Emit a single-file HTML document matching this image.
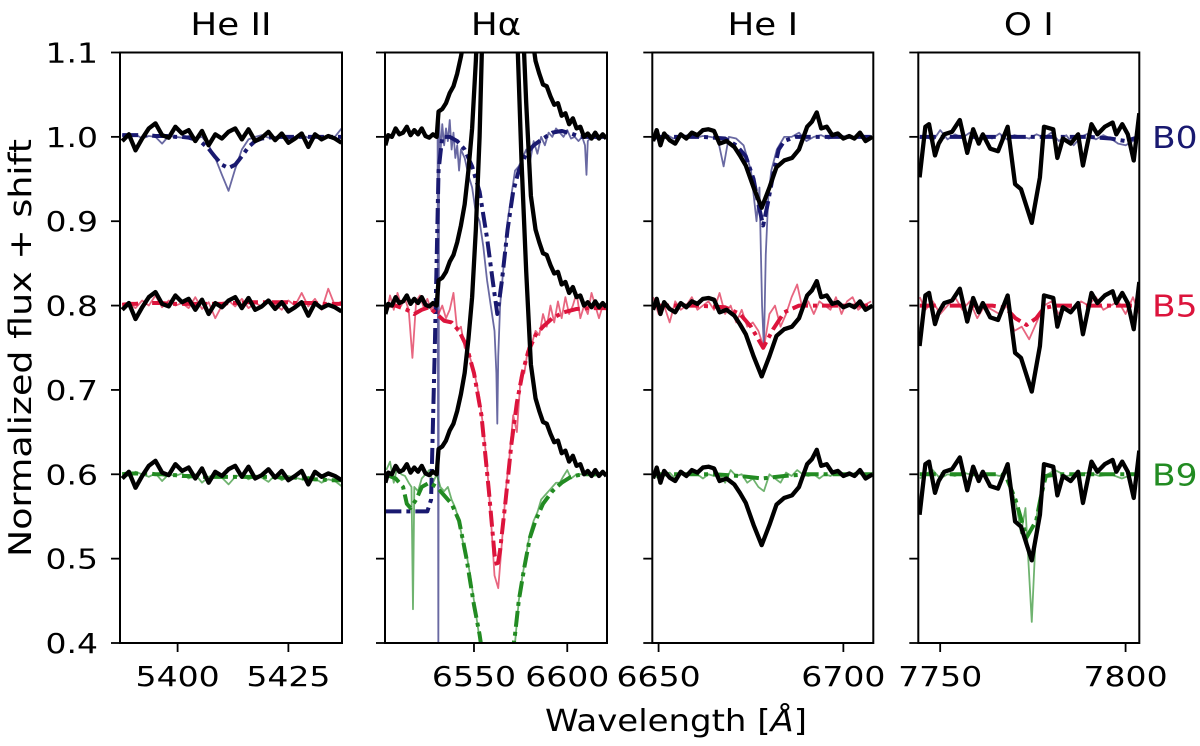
<!DOCTYPE html>
<html><head><meta charset="utf-8"><style>
html,body{margin:0;padding:0;background:#fff}
svg{display:block}
text{font-family:"DejaVu Sans","Liberation Sans",sans-serif;fill:#000}
</style></head><body>
<svg id="fig" width="1200" height="746" viewBox="0 0 1200 746"></svg>
<script>
// ---------- He II panel data ----------
const wHeII=[5387.5,5389,5390.5,5392,5393.5,5395,5396.5,5398,5399.5,5401,5402.5,5404,5405.5,5407,5408.5,5410,5411.5,5413,5414.5,5416,5417.5,5419,5420.5,5422,5423.5,5425,5426.5,5428,5429.5,5431,5432.5,5434,5435.5,5437];
const obsHeII=[0.995,1.003,0.984,0.998,1.010,1.016,1.002,0.999,1.012,1.004,1.008,0.995,1.007,0.990,1.003,0.998,1.006,1.010,0.997,1.009,0.995,0.999,1.006,0.996,1.004,0.993,0.998,1.004,0.988,1.003,0.997,1.001,0.998,0.993];
const b0HeIIthin=[1.002,1.000,1.003,0.998,1.001,1.000,0.992,1.001,1.000,0.999,1.001,0.998,1.000,0.990,0.975,0.955,0.936,0.962,0.985,0.997,1.000,1.002,0.999,1.000,1.001,0.998,1.000,1.002,0.999,1.000,0.999,1.001,1.000,1.010];
const b0HeIIfit=[1.002,1.002,1.002,1.002,1.002,1.001,1.001,1.001,1.000,1.000,0.999,0.997,0.993,0.986,0.976,0.967,0.963,0.967,0.977,0.988,0.995,0.998,0.999,1.000,1.000,1.000,1.000,1.000,1.000,1.000,1.000,1.000,1.000,1.000];
const b5HeIIthin=[0.800,0.803,0.797,0.806,0.800,0.812,0.798,0.806,0.800,0.803,0.797,0.810,0.796,0.804,0.785,0.800,0.806,0.799,0.808,0.797,0.803,0.799,0.806,0.801,0.795,0.806,0.800,0.815,0.799,0.808,0.795,0.820,0.800,0.805];
const b5HeIIfit=[0.801,0.802,0.802,0.803,0.803,0.803,0.803,0.802,0.802,0.802,0.802,0.802,0.802,0.802,0.802,0.802,0.803,0.803,0.803,0.804,0.804,0.804,0.804,0.804,0.804,0.804,0.803,0.803,0.803,0.803,0.802,0.802,0.802,0.802];
const b9HeIIthin=[0.600,0.598,0.603,0.600,0.597,0.601,0.592,0.600,0.598,0.601,0.595,0.600,0.590,0.597,0.600,0.596,0.588,0.597,0.600,0.594,0.598,0.596,0.591,0.599,0.593,0.598,0.596,0.594,0.597,0.595,0.590,0.594,0.592,0.586];
const b9HeIIfit=[0.600,0.601,0.601,0.601,0.601,0.600,0.600,0.599,0.599,0.598,0.598,0.597,0.597,0.597,0.597,0.597,0.597,0.597,0.597,0.597,0.597,0.597,0.597,0.597,0.596,0.596,0.596,0.595,0.595,0.594,0.594,0.593,0.593,0.593];
// ---------- H-alpha panel data ----------
const wHaObs=[6502.5,6504,6506,6508,6510,6512,6514,6516,6518,6520,6522,6524,6526,6528,6530,6531,6533,6535,6537,6539,6541,6543,6545,6547,6549,6551,6553,6556,6560,6563,6567,6571,6573.5,6575.5,6578,6580.5,6583,6585,6587,6589,6591,6593,6595,6597,6599,6601,6603,6605,6607,6609,6611,6613,6615,6617,6619,6621];
const obsHa=[0.990,1.002,1.000,1.010,1.003,1.005,1.012,1.002,1.008,1.003,1.010,1.001,0.999,1.003,1.000,1.030,1.033,1.040,1.052,1.060,1.075,1.095,1.120,1.160,1.210,1.290,1.40,1.65,1.95,2.05,1.95,1.65,1.50,1.37,1.24,1.13,1.09,1.075,1.062,1.060,1.048,1.038,1.040,1.025,1.028,1.015,1.022,1.010,1.012,1.000,1.004,0.998,1.005,0.998,1.003,0.998];
const wHaB0thin=[6530.5,6530.9,6531.3,6532,6533,6534,6535,6536,6537,6538,6539,6540,6541,6542,6543,6545,6547,6549,6551,6553,6555,6557,6559,6561,6562,6562.5,6563,6564,6566,6568,6570,6572,6574,6576,6578,6580,6582,6584,6586,6588,6590,6592,6594,6596,6598,6600,6602,6604,6606,6608,6609.5,6610.3,6611,6613,6616,6619,6621];
const b0HaThin=[1.0,0.38,1.02,0.98,1.015,0.99,1.01,0.995,1.02,0.985,1.005,0.975,0.99,0.96,0.985,0.975,0.955,0.94,0.91,0.90,0.87,0.83,0.80,0.77,0.72,0.66,0.74,0.80,0.85,0.90,0.93,0.96,0.965,0.975,0.985,0.97,0.995,0.98,1.0,0.99,1.005,1.0,1.01,1.005,1.0,1.008,0.998,1.0,0.995,1.0,0.99,0.955,0.995,1.0,0.998,1.0,1.0];
const wHaB0fit=[6502.5,6510,6520,6525,6527,6529,6531,6533,6537,6541,6545,6549,6553,6557,6560,6562.5,6565,6568,6571,6574,6578,6582,6587,6592,6597,6602,6607,6612,6617,6621];
const b0HaFit=[0.556,0.556,0.556,0.556,0.57,0.75,0.96,1.0,1.0,0.995,0.985,0.965,0.935,0.88,0.83,0.79,0.83,0.89,0.935,0.96,0.98,0.99,0.998,1.005,1.007,1.004,1.0,1.0,1.0,1.0];
const wHaB5thin=[6503,6505,6507,6509,6511,6513,6515,6517,6519,6521,6523,6525,6527,6529,6531,6533,6535,6537,6539,6541,6543,6545,6547,6549,6551,6553,6555,6557,6559,6561,6563,6565,6567,6569,6571,6573,6575,6577,6579,6581,6583,6585,6587,6589,6591,6593,6595,6597,6599,6601,6603,6605,6607,6609,6611,6613,6615,6617,6619,6621];
const b5HaThin=[0.790,0.812,0.795,0.815,0.800,0.808,0.795,0.738,0.805,0.812,0.798,0.808,0.795,0.803,0.790,0.800,0.785,0.795,0.815,0.770,0.775,0.750,0.745,0.730,0.712,0.69,0.655,0.61,0.55,0.48,0.465,0.52,0.58,0.62,0.67,0.65,0.715,0.72,0.75,0.755,0.77,0.765,0.790,0.775,0.80,0.78,0.805,0.785,0.81,0.79,0.80,0.815,0.785,0.80,0.79,0.815,0.80,0.785,0.80,0.795];
const wHaB5fit=[6502.5,6508,6514,6518,6522,6526,6530,6534,6538,6542,6546,6550,6554,6558,6561,6562.5,6564,6567,6570,6573,6576,6579,6583,6587,6592,6598,6605,6612,6621];
const b5HaFit=[0.800,0.800,0.795,0.790,0.795,0.798,0.790,0.782,0.780,0.770,0.752,0.72,0.67,0.58,0.505,0.49,0.51,0.57,0.635,0.685,0.72,0.745,0.765,0.775,0.785,0.792,0.796,0.797,0.797];
const wHaB9thin=[6503,6505,6507,6509,6511,6513,6515,6516.5,6517.3,6518,6520,6522,6524,6526,6528,6530,6532,6534,6536,6538,6540,6542,6544,6546,6548,6550,6552,6554,6556,6570,6572,6574,6576,6578,6580,6582,6584,6586,6588,6590,6592,6594,6596,6598,6600,6602,6605,6608,6611,6614,6617,6621];
const b9HaThin=[0.605,0.615,0.59,0.61,0.60,0.598,0.59,0.585,0.44,0.585,0.58,0.595,0.60,0.605,0.59,0.60,0.585,0.58,0.585,0.57,0.56,0.545,0.52,0.505,0.48,0.45,0.42,0.39,0.36,0.36,0.40,0.45,0.48,0.505,0.53,0.545,0.555,0.57,0.575,0.58,0.585,0.59,0.59,0.598,0.605,0.595,0.60,0.60,0.602,0.598,0.60,0.60];
const wHaB9fit=[6502.5,6508,6512,6514,6516,6519,6522,6526,6530,6534,6538,6542,6546,6550,6553,6555,6570,6572,6574,6577,6580,6583,6587,6592,6597,6602,6608,6614,6621];
const b9HaFit=[0.600,0.595,0.585,0.565,0.560,0.570,0.585,0.590,0.585,0.575,0.565,0.545,0.50,0.445,0.41,0.38,0.38,0.41,0.45,0.49,0.525,0.545,0.565,0.58,0.59,0.597,0.600,0.600,0.600];
// ---------- He I panel data ----------
const wHeIObs=[6648.5,6649.5,6650.5,6651.5,6653,6654.5,6656,6657.5,6659,6660.5,6662,6663.5,6665,6666.5,6668.4,6670.5,6672,6673.6,6675.7,6677.9,6680,6681.9,6684,6686.1,6688,6690.2,6691.5,6692.8,6694,6695.5,6697,6698.5,6700,6701.6,6703,6704.5,6706,6707.9];
const obsHeI=[0.995,1.008,0.99,1.004,0.996,0.992,1.003,0.998,1.005,1.002,1.008,1.009,1.007,0.992,0.995,0.988,0.978,0.966,0.94,0.916,0.94,0.964,0.972,0.975,0.985,1.012,1.018,1.029,1.010,1.012,1.002,1.004,0.998,1.001,0.998,1.005,0.995,1.0];
const wHeIB0thin=[6648.5,6650,6652,6654,6656,6658,6660,6662,6664,6666,6667.6,6669,6671,6673,6675,6676.5,6677.3,6678,6678.5,6679,6679.7,6680.5,6682,6684,6686,6688,6690,6692,6694,6696,6698,6700,6702,6704,6706,6708];
const b0HeIThin=[0.995,1.0,1.003,0.998,1.0,1.002,0.999,1.001,1.0,0.998,0.965,1.0,0.998,0.99,0.96,0.90,0.94,0.80,0.75,0.86,0.93,0.96,0.985,1.0,1.0,1.005,0.995,1.0,1.002,0.998,1.0,1.001,0.999,1.0,0.998,1.0];
const wHeIB0fit=[6648.5,6655,6662,6668,6671,6673.6,6675.7,6677,6678.3,6679.5,6681,6682.5,6684,6687,6692,6700,6708];
const b0HeIFit=[1.0,1.0,1.0,0.998,0.99,0.977,0.95,0.92,0.895,0.92,0.955,0.985,0.995,1.0,1.0,1.0,1.0];
const wHeIthin=[6648.5,6650,6651.5,6653,6654.5,6656,6657.5,6659,6660.5,6662,6663.5,6665,6666.5,6668,6669.5,6671,6672.5,6674,6675.5,6677,6678.5,6680,6681.5,6683,6684.5,6686,6687.5,6689,6690.5,6692,6693.5,6695,6696.5,6698,6699.5,6701,6702.5,6704,6705.5,6707.5];
const b5HeIThin=[0.81,0.79,0.80,0.78,0.805,0.795,0.80,0.81,0.795,0.80,0.805,0.795,0.815,0.79,0.80,0.78,0.795,0.775,0.78,0.77,0.75,0.79,0.80,0.775,0.79,0.81,0.825,0.795,0.805,0.79,0.805,0.80,0.795,0.81,0.79,0.805,0.81,0.795,0.80,0.805];
const wHeIB5fit=[6648.5,6660,6668,6672,6675,6678.3,6681,6684,6688,6695,6708];
const b5HeIFit=[0.80,0.80,0.798,0.79,0.775,0.75,0.772,0.792,0.80,0.80,0.80];
const b9HeIThin=[0.60,0.595,0.598,0.602,0.595,0.60,0.598,0.602,0.60,0.595,0.60,0.598,0.60,0.59,0.605,0.598,0.60,0.59,0.595,0.585,0.58,0.60,0.595,0.59,0.602,0.598,0.605,0.60,0.598,0.60,0.595,0.60,0.598,0.602,0.60,0.598,0.60,0.602,0.598,0.60];
const wHeIB9fit=[6648.5,6665,6672,6678,6684,6690,6708];
const b9HeIFit=[0.60,0.60,0.598,0.595,0.598,0.60,0.60];
// ---------- O I panel data ----------
const wOIObs=[7744.45,7746.0,7747.0,7748.6,7749.6,7751.1,7753.2,7755.3,7757.3,7758.9,7760.4,7761.5,7763.5,7765.6,7768.2,7770.2,7771.8,7774.7,7776.9,7778.0,7780.5,7781.6,7783.1,7785.2,7787.2,7788.5,7790.8,7792.4,7794.4,7796.5,7797.5,7799.1,7800.6,7802.2,7803.7];
const obsOI=[0.952,1.012,1.015,0.978,0.992,1.003,1.006,1.020,0.981,1.009,0.992,1.003,0.986,0.983,1.012,0.944,0.938,0.898,0.952,1.012,1.009,0.975,0.998,0.992,1.003,0.966,1.015,1.003,1.012,1.017,1.003,1.015,1.003,0.972,1.028];
const wOIthin=[7744.5,7746,7748,7750,7752,7754,7756,7758,7760,7762,7764,7766,7768,7770,7772,7774,7776,7778,7780,7782,7784,7786,7788,7790,7792,7794,7796,7798,7800,7802,7803.7];
const b0OIThin=[0.998,1.002,0.995,1.008,0.997,1.003,0.999,1.005,0.995,1.002,0.998,1.004,0.997,1.002,1.0,0.998,1.003,0.999,1.005,0.995,1.002,0.99,1.0,1.004,0.997,1.002,0.998,0.992,0.99,0.995,1.0];
const wOIB0fit=[7744.5,7770,7780,7790,7796,7800,7803.7];
const b0OIFit=[1.0,1.0,1.0,1.0,0.998,0.995,1.0];
const b5OIThin=[0.81,0.795,0.805,0.79,0.80,0.81,0.795,0.805,0.785,0.80,0.795,0.79,0.80,0.77,0.775,0.76,0.78,0.80,0.805,0.79,0.80,0.795,0.805,0.80,0.81,0.795,0.80,0.805,0.79,0.81,0.79];
const wOIB5fit=[7744.5,7764,7767.7,7770.3,7773.3,7775.9,7778,7781,7790,7803.7];
const b5OIFit=[0.80,0.80,0.797,0.785,0.777,0.785,0.797,0.80,0.80,0.80];
const wOIB9thin=[7744.5,7746,7748,7750,7752,7754,7756,7758,7760,7762,7764,7766,7768,7769.5,7770.7,7771.8,7773,7774.7,7776,7777.5,7779,7781,7784,7787,7790,7793,7796,7799,7802,7803.7];
const b9OIThin=[0.595,0.60,0.605,0.595,0.60,0.598,0.602,0.60,0.598,0.60,0.60,0.598,0.602,0.58,0.56,0.53,0.56,0.425,0.55,0.59,0.60,0.605,0.598,0.60,0.602,0.598,0.60,0.595,0.60,0.598];
const wOIB9fit=[7744.5,7766,7767.7,7770.3,7773.3,7775.9,7777,7778.5,7782,7803.7];
const b9OIFit=[0.60,0.60,0.598,0.57,0.525,0.545,0.57,0.598,0.60,0.60];
// ---------- axis config ----------
const yTicks=[0.4,0.5,0.6,0.7,0.8,0.9,1.0,1.1];
const yTickLabels=["0.4","0.5","0.6","0.7","0.8","0.9","1.0","1.1"];
const obsShifts=[0,-0.2,-0.4];
const classLabels=["B0","B5","B9"];
const classLevels=[1.0,0.8,0.6];

const NS="http://www.w3.org/2000/svg";
const svg=document.getElementById("fig");
const Y0=52.5,Y1=643,FMIN=0.4,FMAX=1.1;
const STRETCH=1.18;
function yScale(f){return Y1-(f-FMIN)/(FMAX-FMIN)*(Y1-Y0);}
const COL={b0:"#191970",b5:"#dc143c",b9:"#228b22"};
function el(tag,attrs,parent){const e=document.createElementNS(NS,tag);for(const k in attrs)e.setAttribute(k,attrs[k]);(parent||svg).appendChild(e);return e;}
function stretch(t,f){const w=t.getComputedTextLength();t.setAttribute("textLength",(w*f).toFixed(1));t.setAttribute("lengthAdjust","spacingAndGlyphs");}

const panels=[
 {key:"he-ii",title:"He II",x0:120,x1:342,lmin:5387,lmax:5437.1,ticks:[5400,5425],
  series:[[wHeII,b0HeIIthin,"b0","thin"],[wHeII,b5HeIIthin,"b5","thin"],[wHeII,b9HeIIthin,"b9","thin"],
          [wHeII,b0HeIIfit,"b0","fit"],[wHeII,b5HeIIfit,"b5","fit"],[wHeII,b9HeIIfit,"b9","fit"]],obs:[wHeII,obsHeII]},
 {key:"h-alpha",title:"H\u03B1",x0:385,x1:607,lmin:6502.3,lmax:6621.3,ticks:[6550,6600],
  series:[[wHaB0thin,b0HaThin,"b0","thin"],[wHaB5thin,b5HaThin,"b5","thin"],[wHaB9thin,b9HaThin,"b9","thin"],
          [wHaB0fit,b0HaFit,"b0","fit"],[wHaB5fit,b5HaFit,"b5","fit"],[wHaB9fit,b9HaFit,"b9","fit"]],obs:[wHaObs,obsHa]},
 {key:"he-i",title:"He I",x0:652.3,x1:873.3,lmin:6648.3,lmax:6708.1,ticks:[6650,6700],
  series:[[wHeIB0thin,b0HeIThin,"b0","thin"],[wHeIthin,b5HeIThin,"b5","thin"],[wHeIthin,b9HeIThin,"b9","thin"],
          [wHeIB0fit,b0HeIFit,"b0","fit"],[wHeIB5fit,b5HeIFit,"b5","fit"],[wHeIB9fit,b9HeIFit,"b9","fit"]],obs:[wHeIObs,obsHeI]},
 {key:"o-i",title:"O I",x0:918.3,x1:1139.3,lmin:7744.1,lmax:7803.7,ticks:[7750,7800],
  series:[[wOIthin,b0OIThin,"b0","thin"],[wOIthin,b5OIThin,"b5","thin"],[wOIB9thin,b9OIThin,"b9","thin"],
          [wOIB0fit,b0OIFit,"b0","fit"],[wOIB5fit,b5OIFit,"b5","fit"],[wOIB9fit,b9OIFit,"b9","fit"]],obs:[wOIObs,obsOI]}
];

panels.forEach((p,pi)=>{
  const xs=l=>p.x0+(l-p.lmin)/(p.lmax-p.lmin)*(p.x1-p.x0);
  const g=el("g",{});
  
  
  const cp=el("clipPath",{id:"clip"+pi},g);
  el("rect",{x:p.x0,y:Y0,width:p.x1-p.x0,height:Y1-Y0},cp);
  const plot=el("g",{"clip-path":"url(#clip"+pi+")"},g);
  function line(ws,fs,shift,stroke,w,op,dash,name){
    let d="";ws.forEach((l,i)=>{d+=(i?"L":"M")+xs(l).toFixed(2)+","+yScale(fs[i]+shift).toFixed(2);});
    const pa=el("path",{d:d,fill:"none",stroke:stroke,"stroke-width":w,"stroke-opacity":op,"stroke-linejoin":"round"},plot);
    if(dash)pa.setAttribute("stroke-dasharray",dash);
    
    
  }
  p.series.filter(s=>s[3]==="thin").forEach(s=>line(s[0],s[1],0,COL[s[2]],1.8,0.65,null,p.key+"-"+s[2]+"-template"));
  p.series.filter(s=>s[3]==="fit").forEach(s=>line(s[0],s[1],0,COL[s[2]],4,1,"16,5,4,5",p.key+"-"+s[2]+"-fit"));
  obsShifts.forEach((sh,i)=>line(p.obs[0],p.obs[1],sh,"#000",4.3,1,null,p.key+"-observed-"+classLabels[i].toLowerCase()));
  const fr=el("rect",{x:p.x0,y:Y0,width:p.x1-p.x0,height:Y1-Y0,fill:"none",stroke:"#000","stroke-width":2},g);
  
  
  yTicks.forEach((t,i)=>{
    const y=yScale(t);
    const tk=el("line",{x1:p.x0-9,x2:p.x0,y1:y,y2:y,stroke:"#000","stroke-width":1.8},g);
    
    
    if(pi===0){
      const tx=el("text",{x:98,y:y+10,"text-anchor":"end","font-size":28},g);
      tx.textContent=yTickLabels[i];
      
      
      stretch(tx,STRETCH);
    }
  });
  p.ticks.forEach(t=>{
    const x=xs(t);
    const tk=el("line",{x1:x,x2:x,y1:Y1,y2:Y1+9,stroke:"#000","stroke-width":1.8},g);
    
    
    const tx=el("text",{x:x,y:686,"text-anchor":"middle","font-size":28},g);
    tx.textContent=String(t);
    
    
    stretch(tx,STRETCH);
  });
  const ti=el("text",{x:(p.x0+p.x1)/2,y:35,"text-anchor":"middle","font-size":31},g);
  ti.textContent=p.title;
  
  
  stretch(ti,1.15);
});
const yl=el("text",{x:0,y:0,"text-anchor":"middle","font-size":31,transform:"translate(31,348) rotate(-90)"});
yl.textContent="Normalized flux + shift";


yl.setAttribute("textLength","418");
yl.setAttribute("lengthAdjust","spacingAndGlyphs");
const xl=el("text",{x:676,y:731,"text-anchor":"middle","font-size":30});
xl.innerHTML='Wavelength [<tspan font-style="italic">\u00C5</tspan>]';


xl.setAttribute("textLength","262");
xl.setAttribute("lengthAdjust","spacingAndGlyphs");
xl.setAttribute("x","545");
xl.setAttribute("text-anchor","start");
classLabels.forEach((c,i)=>{
  const col=COL["b"+["0","5","9"][i]];
  const t=el("text",{x:1152,y:yScale(classLevels[i])+11,"font-size":30});
  t.setAttribute("style","fill:"+col);
  t.textContent=c;
  
  
  stretch(t,1.15);
});
</script>
</body></html>
